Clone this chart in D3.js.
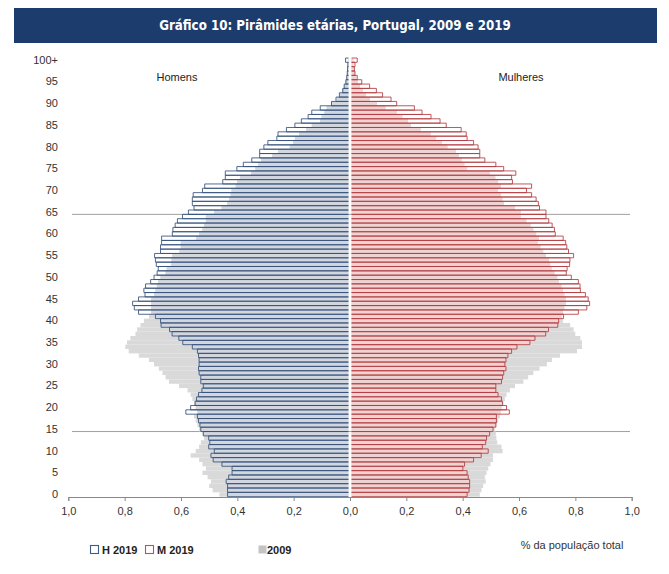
<!DOCTYPE html>
<html>
<head>
<meta charset="utf-8">
<script src="https://cdn.jsdelivr.net/npm/d3@7"></script>
<style>
  body { margin: 0; background: #fff; }
  svg text { font-family: "Liberation Sans", Arial, sans-serif; }
</style>
</head>
<body>
<script>
// -- data: ages 0 .. 100+ (index = age), % of total population --
var ages = d3.range(0, 101);
var ageTicks = [0, 5, 10, 15, 20, 25, 30, 35, 40, 45, 50, 55, 60, 65, 70, 75, 80, 85, 90, 95, 100];
var xTicks = [-1, -0.8, -0.6, -0.4, -0.2, 0, 0.2, 0.4, 0.6, 0.8, 1];
var refAges = [15, 65];

var male2019 = [0.429,0.429,0.429,0.434,0.425,0.413,0.413,0.449,0.48,0.488,
  0.476,0.496,0.492,0.496,0.515,0.524,0.527,0.532,0.536,0.577,
  0.56,0.544,0.539,0.532,0.52,0.515,0.524,0.524,0.53,0.532,
  0.53,0.53,0.532,0.536,0.554,0.588,0.602,0.626,0.635,0.665,
  0.667,0.685,0.745,0.76,0.766,0.745,0.722,0.726,0.72,0.702,
  0.69,0.679,0.675,0.682,0.685,0.688,0.667,0.667,0.663,0.663,
  0.625,0.623,0.615,0.607,0.589,0.568,0.548,0.554,0.554,0.551,
  0.518,0.51,0.446,0.437,0.437,0.396,0.373,0.343,0.315,0.315,
  0.30,0.286,0.254,0.25,0.22,0.19,0.167,0.143,0.13,0.10,
  0.06,0.044,0.032,0.02,0.015,0.009,0.006,0.004,0.003,0.002,
  0.01];

var female2019 = [0.41,0.417,0.419,0.419,0.414,0.41,0.395,0.401,0.433,0.46,
  0.485,0.464,0.476,0.479,0.49,0.502,0.512,0.514,0.514,0.56,
  0.55,0.536,0.532,0.52,0.512,0.512,0.532,0.536,0.54,0.548,
  0.544,0.548,0.555,0.568,0.587,0.633,0.651,0.689,0.699,0.732,
  0.735,0.752,0.805,0.835,0.845,0.84,0.83,0.812,0.811,0.805,
  0.78,0.762,0.765,0.774,0.775,0.788,0.77,0.764,0.76,0.751,
  0.723,0.72,0.712,0.70,0.69,0.69,0.667,0.663,0.655,0.639,
  0.621,0.639,0.571,0.568,0.583,0.54,0.512,0.473,0.455,0.455,
  0.449,0.433,0.41,0.407,0.389,0.336,0.314,0.282,0.25,0.223,
  0.16,0.14,0.11,0.088,0.064,0.036,0.02,0.012,0.01,0.012,
  0.02];

var male2009 = [0.458,0.482,0.494,0.488,0.5,0.518,0.506,0.518,0.53,0.56,
  0.542,0.53,0.524,0.512,0.518,0.53,0.536,0.542,0.548,0.536,
  0.542,0.548,0.554,0.56,0.571,0.601,0.637,0.649,0.66,0.673,
  0.69,0.708,0.744,0.78,0.792,0.786,0.774,0.756,0.75,0.738,
  0.726,0.708,0.70,0.70,0.70,0.70,0.69,0.685,0.68,0.675,
  0.667,0.649,0.645,0.63,0.628,0.625,0.60,0.595,0.595,0.54,
  0.53,0.518,0.512,0.506,0.506,0.476,0.45,0.43,0.423,0.418,
  0.415,0.40,0.395,0.385,0.345,0.33,0.32,0.31,0.27,0.25,
  0.208,0.196,0.19,0.175,0.15,0.13,0.10,0.095,0.085,0.077,
  0.06,0.04,0.03,0.022,0.015,0.01,0.006,0.004,0.003,0.002,
  0.002];

var female2009 = [0.455,0.461,0.467,0.476,0.473,0.479,0.485,0.493,0.502,0.502,
  0.536,0.532,0.517,0.514,0.512,0.508,0.514,0.52,0.526,0.529,
  0.532,0.538,0.544,0.55,0.562,0.58,0.61,0.627,0.645,0.667,
  0.693,0.711,0.74,0.8,0.818,0.818,0.812,0.794,0.788,0.776,
  0.75,0.745,0.75,0.755,0.76,0.76,0.755,0.75,0.745,0.735,
  0.73,0.72,0.71,0.705,0.70,0.69,0.68,0.67,0.66,0.665,
  0.655,0.645,0.635,0.62,0.60,0.60,0.58,0.54,0.535,0.53,
  0.52,0.53,0.52,0.51,0.49,0.41,0.40,0.39,0.38,0.37,
  0.34,0.32,0.30,0.28,0.245,0.21,0.2,0.18,0.16,0.12,
  0.09,0.065,0.05,0.04,0.03,0.022,0.016,0.012,0.008,0.006,
  0.006];

// -- colours --
var navy = "#1c3c6e";
var blueLine = "#34507a";
var redLine = "#b23c40";
var grey09 = "#d9d9d9";

var W = 669, H = 574;
var svg = d3.select("body").append("svg")
  .attr("width", W).attr("height", H);

// title banner
svg.append("rect")
  .attr("x", 14).attr("y", 8).attr("width", 643).attr("height", 35)
  .attr("fill", navy);
svg.append("text")
  .attr("x", 335).attr("y", 30)
  .attr("text-anchor", "middle")
  .style("font-family", "'DejaVu Sans Condensed', 'DejaVu Sans', sans-serif")
  .style("font-weight", "bold")
  .style("font-size", "13.2px")
  .attr("fill", "#fff")
  .text("Gráfico 10: Pirâmides etárias, Portugal, 2009 e 2019");

// scales
var x = d3.scaleLinear().domain([-1, 1]).range([68.3, 631.7]);
var y = d3.scaleBand().domain(ages.slice().reverse()).range([58, 496.7]).padding(0);
var bw = y.bandwidth();
var gapL = -1.6, gapR = 1.6;   // small white gap at the centre
var x0L = x(0) + gapL, x0R = x(0) + gapR;

function leftX(v) { return x(-v) + gapL; }
function rightX(v) { return x(v) + gapR; }

// reference lines at 15 and 65
svg.selectAll("line.ref").data(refAges).enter().append("line")
  .attr("class", "ref")
  .attr("x1", 72).attr("x2", 630)
  .attr("y1", function(d){ return y(d) + bw; })
  .attr("y2", function(d){ return y(d) + bw; })
  .attr("stroke", "#a0a0a0").attr("stroke-width", 1);

// 2009 grey bars
svg.append("g").selectAll("rect").data(ages).enter().append("rect")
  .attr("x", function(a){ return leftX(male2009[a]); })
  .attr("y", function(a){ return y(a); })
  .attr("width", function(a){ return x0L - leftX(male2009[a]); })
  .attr("height", bw)
  .attr("fill", grey09);
svg.append("g").selectAll("rect").data(ages).enter().append("rect")
  .attr("x", x0R)
  .attr("y", function(a){ return y(a); })
  .attr("width", function(a){ return rightX(female2009[a]) - x0R; })
  .attr("height", bw)
  .attr("fill", grey09);

// tint where 2019 covers 2009
svg.append("g").selectAll("rect").data(ages).enter().append("rect")
  .attr("x", function(a){ return leftX(Math.min(male2009[a], male2019[a])); })
  .attr("y", function(a){ return y(a); })
  .attr("width", function(a){ return x0L - leftX(Math.min(male2009[a], male2019[a])); })
  .attr("height", bw)
  .attr("fill", "#d2d7df");
svg.append("g").selectAll("rect").data(ages).enter().append("rect")
  .attr("x", x0R)
  .attr("y", function(a){ return y(a); })
  .attr("width", function(a){ return rightX(Math.min(female2009[a], female2019[a])) - x0R; })
  .attr("height", bw)
  .attr("fill", "#efd2d2");

// 2019 outlined bars (open at the centre)
function barPath(x0, x1, a) {
  var t = y(a), b = y(a) + bw;
  return "M" + x0 + "," + t + "H" + x1 + "V" + b + "H" + x0;
}
svg.append("g").selectAll("path").data(ages).enter().append("path")
  .attr("d", function(a){ return barPath(x0L, leftX(male2019[a]), a); })
  .attr("fill", "none")
  .attr("stroke", blueLine).attr("stroke-width", 0.85);
svg.append("g").selectAll("path").data(ages).enter().append("path")
  .attr("d", function(a){ return barPath(x0R, rightX(female2019[a]), a); })
  .attr("fill", "none")
  .attr("stroke", redLine).attr("stroke-width", 0.85);

// x axis
var xAxis = d3.axisBottom(x)
  .tickValues(xTicks)
  .tickSize(4)
  .tickPadding(6)
  .tickFormat(function(d){ return Math.abs(d).toFixed(1).replace(".", ","); });
var gx = svg.append("g")
  .attr("transform", "translate(0," + 497 + ")")
  .call(xAxis);
gx.select(".domain").attr("stroke", "#888");
gx.selectAll(".tick line").attr("stroke", "#888");
gx.selectAll(".tick text").style("font-size", "11px").attr("fill", "#333");

// y axis (labels only)
var yAxis = d3.axisLeft(y)
  .tickValues(ageTicks)
  .tickSize(0)
  .tickPadding(0)
  .tickFormat(function(d){ return d === 100 ? "100+" : d; });
var gy = svg.append("g")
  .attr("transform", "translate(58,0)")
  .call(yAxis);
gy.select(".domain").remove();
gy.selectAll(".tick text").style("font-size", "11px").attr("fill", "#333");

// side labels
svg.append("text").attr("x", 177).attr("y", 81).attr("text-anchor", "middle")
  .style("font-size", "11px").attr("fill", "#222").text("Homens");
svg.append("text").attr("x", 521).attr("y", 81).attr("text-anchor", "middle")
  .style("font-size", "11px").attr("fill", "#222").text("Mulheres");

// unit label
svg.append("text").attr("x", 572).attr("y", 549).attr("text-anchor", "middle")
  .style("font-size", "11px").attr("fill", "#333").text("% da população total");

// legend
var legend = [
  { label: "H 2019", x: 90, stroke: "#3c5c8c", fill: "#fff" },
  { label: "M 2019", x: 145, stroke: "#d0494d", fill: "#fff" },
  { label: "2009", x: 258, stroke: "none", fill: "#c4c4c4" }
];
var lg = svg.selectAll("g.leg").data(legend).enter().append("g")
  .attr("class", "leg")
  .attr("transform", function(d){ return "translate(" + d.x + ",545)"; });
lg.append("rect")
  .attr("x", 0.5).attr("y", 0.5).attr("width", 8).attr("height", 8)
  .attr("fill", function(d){ return d.fill; })
  .attr("stroke", function(d){ return d.stroke; })
  .attr("stroke-width", 1.1);
lg.append("text")
  .attr("x", function(d){ return d.stroke === "none" ? 9 : 12; })
  .attr("y", 9)
  .style("font-size", "11px").style("font-weight", "bold").attr("fill", "#222")
  .text(function(d){ return d.label; });
</script>
</body>
</html>
